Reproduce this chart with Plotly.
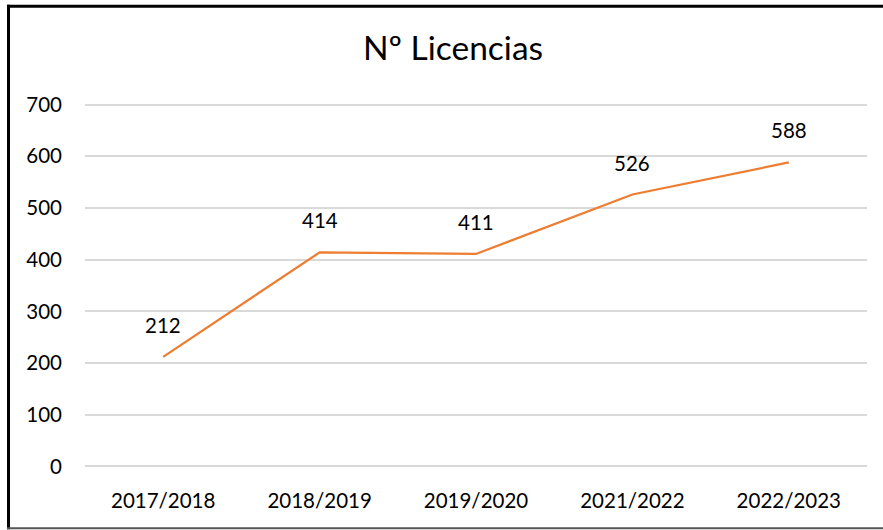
import plotly.graph_objects as go

categories = ["2017/2018", "2018/2019", "2019/2020", "2021/2022", "2022/2023"]
licencias = [212, 414, 411, 526, 588]
y_ticks = [0, 100, 200, 300, 400, 500, 600, 700]

W, H = 883, 530
PAD = 3  # value padding so the 0 and 700 gridlines are drawn
ML, MR, MT, MB = 85, 16, 102.5, 61.5
FONT = "Lato"

fig = go.Figure()
fig.add_trace(go.Scatter(
    x=categories, y=licencias, mode="lines",
    line=dict(color="#ED7D31", width=2.25),
    hoverinfo="x+y", showlegend=False,
))

for c, v in zip(categories, licencias):
    fig.add_annotation(x=c, y=v, text=str(v), showarrow=False,
                       yshift=32, font=dict(family=FONT, size=20.5, color="#000000"))

pw = W - ML - MR
ph = H - MT - MB
def px2x(p): return (p - ML) / pw
def py2y(p): return (H - MB - p) / ph

# chart-area border (left, top, bottom visible; right edge is cut off in the reference)
fig.add_shape(type="line", xref="paper", yref="paper",
              x0=px2x(8.5), x1=px2x(8.5), y0=py2y(530), y1=py2y(4),
              line=dict(color="#000000", width=3), layer="above")
fig.add_shape(type="line", xref="paper", yref="paper",
              x0=px2x(7), x1=px2x(890), y0=py2y(5.5), y1=py2y(5.5),
              line=dict(color="#000000", width=3), layer="above")
fig.add_shape(type="line", xref="paper", yref="paper",
              x0=px2x(7), x1=px2x(890), y0=py2y(529), y1=py2y(529),
              line=dict(color="#555555", width=2), layer="above")

fig.update_layout(
    width=W, height=H,
    margin=dict(l=ML, r=MR, t=MT, b=MB),
    paper_bgcolor="white", plot_bgcolor="white",
    title=dict(text="Nº Licencias", x=453 / W, xanchor="center",
               y=1 - 48.5 / H, yanchor="middle",
               font=dict(family=FONT, size=33.5, color="#000000")),
    xaxis=dict(type="category", range=[-0.5, 4.5], showgrid=False, showline=False,
               zeroline=False, ticks="", tickfont=dict(family=FONT, size=20.5, color="#000000"),
               ticklabelstandoff=18),
    yaxis=dict(range=[-PAD, 700 + PAD], tickvals=y_ticks, showgrid=True, gridcolor="#D9D9D9",
               gridwidth=1.7, zeroline=True, zerolinecolor="#D9D9D9", zerolinewidth=1.7,
               showline=False, ticks="",
               tickfont=dict(family=FONT, size=20.5, color="#000000"), ticklabelstandoff=22),
)

fig.write_html("out.html", config={"displayModeBar": False},
               post_script="document.body.style.margin='0';document.body.style.overflow='hidden';")
